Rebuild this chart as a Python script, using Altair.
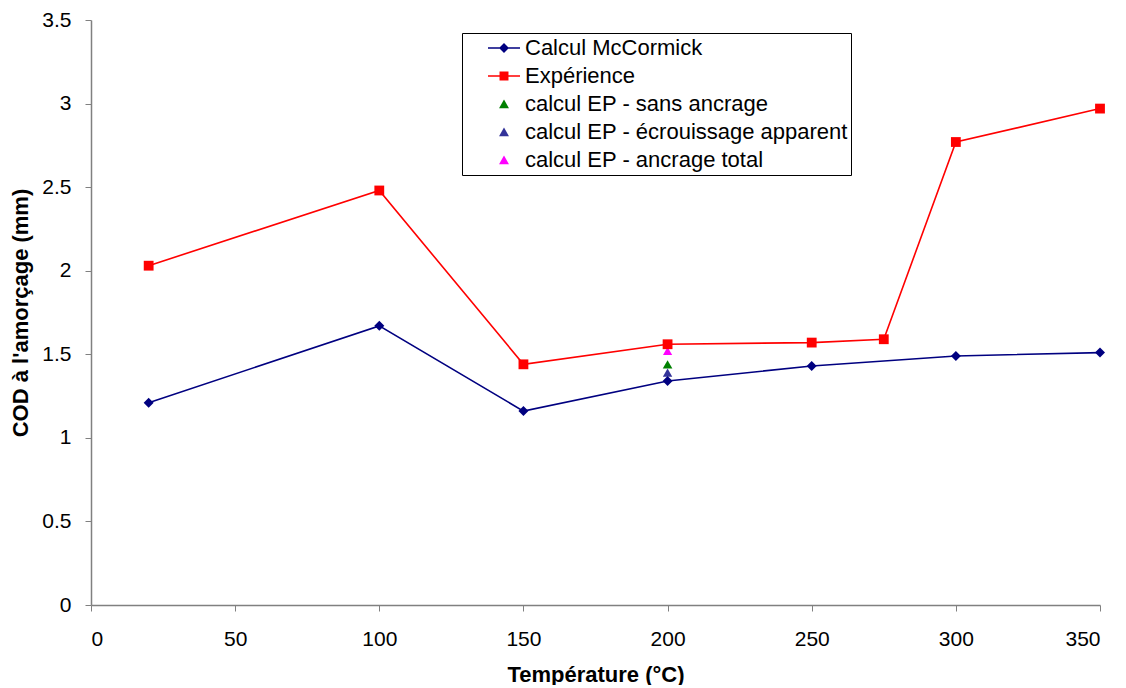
import altair as alt
import pandas as pd

series_names = ["Calcul McCormick", "Expérience", "calcul EP - sans ancrage",
                "calcul EP - écrouissage apparent", "calcul EP - ancrage total"]
colors = ["#000080", "#FF0000", "#008000", "#333399", "#FF00FF"]
shapes = ["diamond", "square", "triangle-up", "triangle-up", "triangle-up"]
marker_sizes = [100, 85, 115, 115, 115]

temp_mc = [20, 100, 150, 200, 250, 300, 350]
cod_mc = [1.21, 1.67, 1.16, 1.34, 1.43, 1.49, 1.51]

temp_exp = [20, 100, 150, 200, 250, 275, 300, 350]
cod_exp = [2.03, 2.48, 1.44, 1.56, 1.57, 1.59, 2.77, 2.97]

temp_ep = [200, 200, 200]
cod_ep = [1.44, 1.39, 1.52]
ep_names = series_names[2:]

rows = []
for t, v in zip(temp_mc, cod_mc):
    rows.append({"series": series_names[0], "temp": t, "cod": v, "order": 1})
for t, v in zip(temp_exp, cod_exp):
    rows.append({"series": series_names[1], "temp": t, "cod": v, "order": 2})
for t, v, n in zip(temp_ep, cod_ep, ep_names):
    rows.append({"series": n, "temp": t, "cod": v, "order": 0})
df = pd.DataFrame(rows)

FONT = "Liberation Sans"

# legend symbols (line + marker), in symbol units
line_path = "M-1,-0.05H1V0.05H-1Z"
mc_sym = line_path + " M0,-0.31L0.31,0L0,0.31L-0.31,0Z"
exp_sym = line_path + " M-0.28,-0.28H0.28V0.28H-0.28Z"
tri_sym = "M0,-0.28L0.31,0.26L-0.31,0.26Z"
legend_shapes = [mc_sym, exp_sym, tri_sym, tri_sym, tri_sym]

x_enc = alt.X("temp:Q", title="Température (°C)",
              scale=alt.Scale(domain=[0, 350], nice=False),
              axis=alt.Axis(values=[0, 50, 100, 150, 200, 250, 300, 350],
                            grid=False, tickSize=6, labelPadding=17,
                            titlePadding=15))
y_enc = alt.Y("cod:Q", title="COD à l'amorçage (mm)",
              scale=alt.Scale(domain=[0, 3.5], nice=False),
              axis=alt.Axis(values=[0, 0.5, 1, 1.5, 2, 2.5, 3, 3.5],
                            format=".2~f", grid=False, tickSize=6,
                            labelPadding=14, titlePadding=9))

color_scale = alt.Scale(domain=series_names, range=colors)

lines = alt.Chart(df).transform_filter(
    alt.FieldOneOfPredicate(field="series", oneOf=series_names[:2])
).mark_line(strokeWidth=1.6).encode(
    x=x_enc, y=y_enc,
    color=alt.Color("series:N", scale=color_scale, legend=None),
    detail="series:N",
)

points = alt.Chart(df).mark_point(filled=True, opacity=1).encode(
    x=x_enc, y=y_enc,
    color=alt.Color("series:N", scale=color_scale, legend=None),
    shape=alt.Shape("series:N",
                    scale=alt.Scale(domain=series_names, range=shapes),
                    legend=None),
    size=alt.Size("series:N",
                  scale=alt.Scale(domain=series_names, range=marker_sizes),
                  legend=None),
    order="order:Q",
)

legend_props = dict(
    title=None, orient="none", legendX=371, legendY=13,
    strokeColor="#000000", padding=3, fillColor="white",
    labelFont=FONT, labelFontSize=22, labelColor="black",
    symbolSize=1024, symbolOffset=23, labelOffset=5,
    clipHeight=24, rowPadding=4,
    symbolStrokeWidth=0, symbolOpacity=1, labelLimit=600,
    labelExpr="datum.label + '\u2003'",
)

legend_layer = alt.Chart(df).mark_point(filled=True, opacity=0).encode(
    x=x_enc, y=y_enc,
    color=alt.Color("series:N", scale=color_scale,
                    legend=alt.Legend(**legend_props)),
    shape=alt.Shape("series:N",
                    scale=alt.Scale(domain=series_names, range=legend_shapes),
                    legend=alt.Legend(**legend_props)),
)

chart = alt.layer(lines, points, legend_layer).resolve_scale(
    color="independent", shape="independent", size="independent"
).properties(
    width=1009, height=585,
    autosize=alt.AutoSizeParams(type="none"),
    padding={"left": 83, "top": 12, "right": 18, "bottom": 80},
).configure_view(stroke=None).configure_axis(
    domainColor="#808080", tickColor="#808080", domainWidth=1.5,
    labelFont=FONT, labelFontSize=21, labelColor="black",
    titleFont=FONT, titleFontSize=22, titleFontWeight="bold", titleColor="black",
)

chart.save("out.html", embed_options={"renderer": "svg", "actions": False})
